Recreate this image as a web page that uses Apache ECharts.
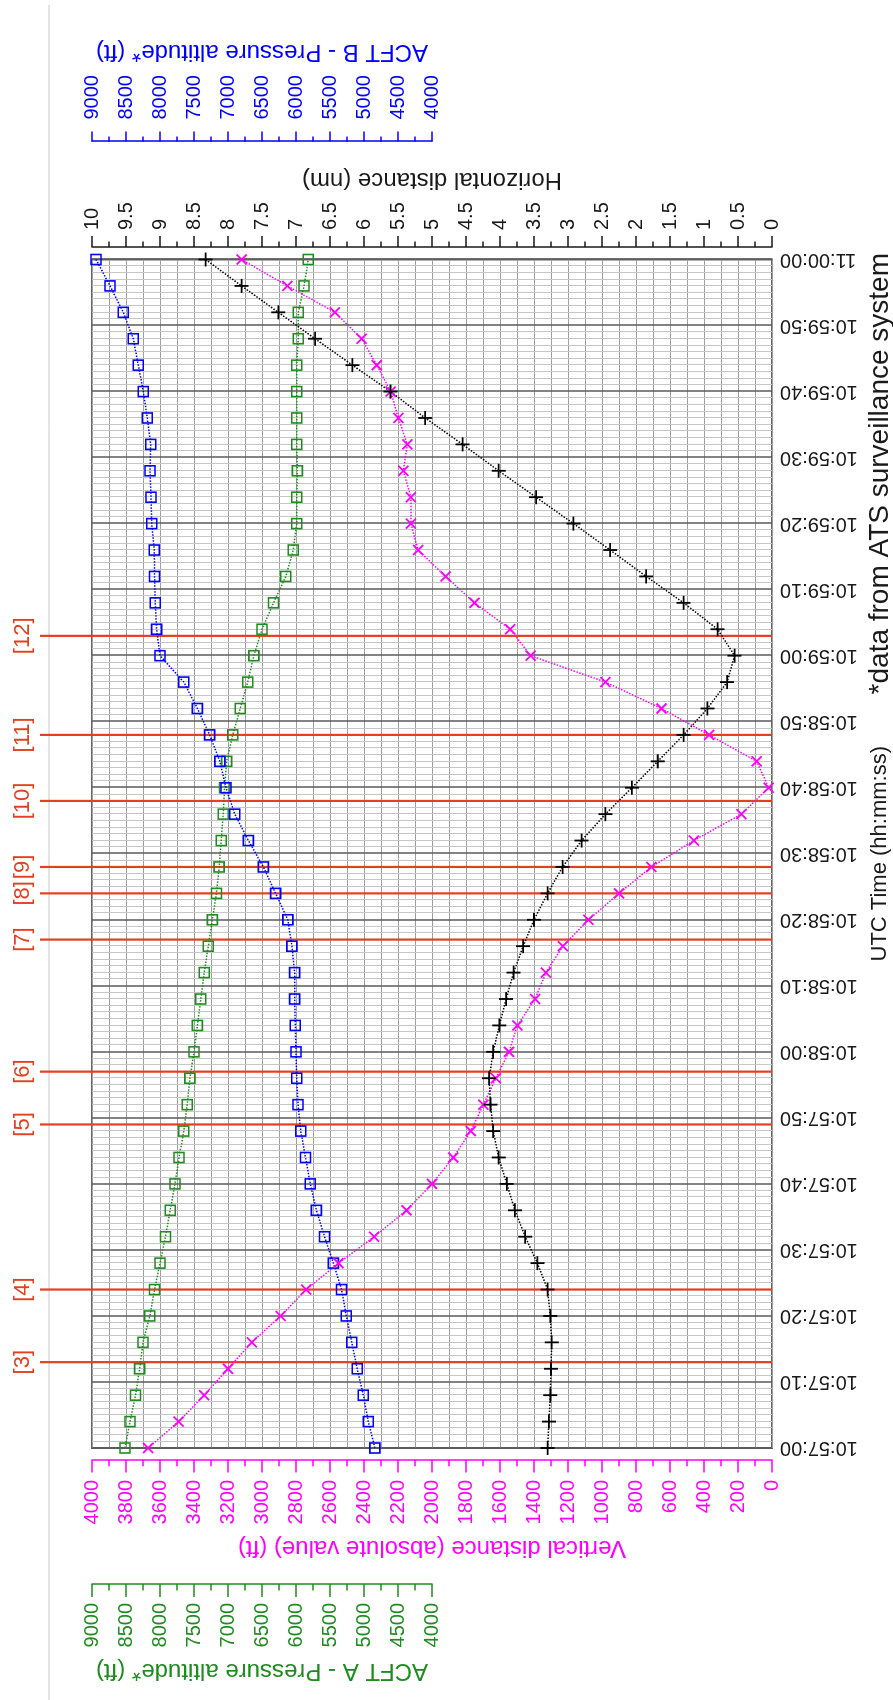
<!DOCTYPE html>
<html>
<head>
<meta charset="utf-8">
<script src="https://cdn.jsdelivr.net/npm/echarts@6/dist/echarts.min.js"></script>
<style>
  html, body { margin: 0; padding: 0; background: #fff; overflow: hidden; }
  .page { position: relative; width: 893px; height: 1700px; }
  /* chart is drawn landscape, then turned a quarter left like the original figure */
  .chart {
    position: absolute; left: 0; top: 0;
    width: 1700px; height: 893px;
    transform-origin: 0 0;
    transform: translateY(1700px) rotate(-90deg);
  }
</style>
</head>
<body>
<div class="page"><div id="chart" class="chart"></div></div>
<script>
// radar samples, every 4 s
var times = ['10:57:00', '10:57:04', '10:57:08', '10:57:12', '10:57:16', '10:57:20', '10:57:24', '10:57:28',
  '10:57:32', '10:57:36', '10:57:40', '10:57:44', '10:57:48', '10:57:52', '10:57:56', '10:58:00',
  '10:58:04', '10:58:08', '10:58:12', '10:58:16', '10:58:20', '10:58:24', '10:58:28', '10:58:32',
  '10:58:36', '10:58:40', '10:58:44', '10:58:48', '10:58:52', '10:58:56', '10:59:00', '10:59:04',
  '10:59:08', '10:59:12', '10:59:16', '10:59:20', '10:59:24', '10:59:28', '10:59:32', '10:59:36',
  '10:59:40', '10:59:44', '10:59:48', '10:59:52', '10:59:56', '11:00:00'];

// horizontal distance (nm)
var horizDist = [3.30, 3.28, 3.26, 3.25, 3.24, 3.26, 3.30, 3.45, 3.63, 3.78, 3.90, 4.02, 4.10, 4.14, 4.16, 4.10,
  4.01, 3.91, 3.80, 3.66, 3.50, 3.30, 3.08, 2.80, 2.45, 2.06, 1.68, 1.30, 0.95, 0.66, 0.55, 0.80,
  1.30, 1.85, 2.38, 2.92, 3.47, 4.02, 4.55, 5.10, 5.61, 6.17, 6.72, 7.26, 7.80, 8.33];

// vertical distance, absolute value (ft)
var vertDist = [3670, 3490, 3340, 3200, 3060, 2890, 2740, 2550, 2340, 2150, 2000, 1875, 1772, 1698, 1624, 1547,
  1498, 1394, 1330, 1230, 1080, 900, 710, 460, 180, 20, 90, 370, 650, 980, 1420, 1540,
  1750, 1920, 2082, 2124, 2124, 2169, 2145, 2198, 2243, 2325, 2414, 2571, 2851, 3120];

// pressure altitudes (ft)
var acftA = [8515, 8441, 8360, 8300, 8250, 8150, 8080, 8000, 7920, 7850, 7780, 7720, 7650, 7600, 7560, 7500,
  7450, 7400, 7350, 7290, 7230, 7170, 7130, 7100, 7070, 7050, 7020, 6930, 6820, 6710, 6620, 6500,
  6330, 6150, 6040, 5990, 5990, 5980, 5990, 5990, 5990, 5990, 5966, 5966, 5882, 5819];
var acftB = [4840, 4937, 5010, 5100, 5180, 5260, 5330, 5450, 5580, 5700, 5790, 5860, 5930, 5970, 5990, 6000,
  6010, 6020, 6020, 6060, 6120, 6300, 6480, 6700, 6900, 7030, 7120, 7270, 7450, 7650, 8000, 8050,
  8070, 8080, 8084, 8122, 8132, 8147, 8137, 8187, 8246, 8319, 8393, 8540, 8735, 8941];

// numbered events
var eventLabels = ['[3]', '[4]', '[5]', '[6]', '[7]', '[8]', '[9]', '[10]', '[11]', '[12]'];
var eventTimes = ['10:57:13', '10:57:24', '10:57:49', '10:57:57', '10:58:17', '10:58:24', '10:58:28',
  '10:58:38', '10:58:48', '10:59:03'];

var FONT = 'Liberation Sans, Arial, sans-serif';
var RED = '#e2401f';
var BLUE = '#0000ff';
var GREEN = '#1f8c1f';
var PINK = '#ff00ff';
var INK = '#1a1a1a';
var START = 10 * 3600 + 57 * 60;

function secs (s) {
  var p = s.split(':').map(Number);
  return p[0] * 3600 + p[1] * 60 + p[2] - START;
}
function pad (n) {
  return (n < 10 ? '0' : '') + n;
}
function clock (v) {
  var s = START + v;
  return pad(Math.floor(s / 3600)) + ':' + pad(Math.floor(s % 3600 / 60)) + ':' + pad(s % 60);
}
function pairs (values) {
  return times.map(function (t, i) {
    return [secs(t), values[i]];
  });
}

var PLUS = 'path://M0,5L10,5M5,0L5,10';
var CROSS = 'path://M0,0L10,10M10,0L0,10';

function valueAxis (opt) {
  var c = opt.color;
  return {
    type: 'value',
    gridIndex: opt.grid,
    position: opt.position,
    offset: opt.offset,
    min: opt.min,
    max: opt.max,
    interval: opt.interval,
    name: opt.name,
    nameLocation: 'middle',
    nameRotate: 90,
    nameGap: opt.nameGap,
    nameTextStyle: { color: c, fontSize: 24, fontFamily: FONT },
    axisLine: { show: true, onZero: false, lineStyle: { color: c, width: 1.5 } },
    axisTick: { show: true, inside: false, length: opt.tick, lineStyle: { color: c, width: 1.5 } },
    minorTick: { show: true, splitNumber: 2, length: opt.tick / 2, lineStyle: { color: c, width: 1.5 } },
    axisLabel: {
      color: c, fontSize: 20, fontFamily: FONT, margin: opt.margin,
      showMinLabel: true, showMaxLabel: true,
      formatter: function (v) { return String(v); }
    },
    splitLine: { show: false }
  };
}

var hAxis = valueAxis({ grid: 0, position: 'right', offset: 12.5, min: 0, max: 10, interval: 0.5,
  name: 'Horizontal distance (nm)', nameGap: 55, color: INK, tick: 11, margin: 17 });
hAxis.splitLine = { show: true, lineStyle: { color: '#9d9d9d', width: 1 } };
hAxis.minorSplitLine = { show: true, lineStyle: { color: '#9d9d9d', width: 1 } };

var option = {
  animation: false,
  backgroundColor: '#fff',
  grid: [
    { left: 252, top: 92, width: 1188.5, height: 680, containLabel: false, outerBoundsMode: 'none',
      show: true, borderColor: '#666', borderWidth: 2 },
    { left: 252, top: 92, width: 1188.5, height: 340, containLabel: false, outerBoundsMode: 'none' }
  ],
  xAxis: [
    {
      type: 'value', gridIndex: 0, min: 0, max: 180, interval: 10,
      name: 'UTC Time (hh:mm:ss)', nameLocation: 'middle', nameGap: 97,
      nameTextStyle: { color: INK, fontSize: 22, fontFamily: FONT },
      axisLine: { show: false, onZero: false },
      axisTick: { show: false },
      axisLabel: { rotate: 90, margin: 8, color: INK, fontSize: 20, fontFamily: FONT,
        showMinLabel: true, showMaxLabel: true, formatter: clock },
      splitLine: { show: true, lineStyle: { color: '#5a5a5a', width: 1.5 } },
      minorTick: { show: false, splitNumber: 10 },
      minorSplitLine: { show: true, lineStyle: { color: '#c6c6c6', width: 1 } }
    },
    { type: 'value', gridIndex: 1, min: 0, max: 180, show: false, axisLine: { onZero: false } }
  ],
  yAxis: [
    hAxis,
    valueAxis({ grid: 0, position: 'left', offset: 12, min: 0, max: 4000, interval: 200,
      name: 'Vertical distance (absolute value) (ft)', nameGap: 70, color: PINK, tick: 12.5, margin: 20 }),
    { type: 'value', gridIndex: 0, min: -1000, max: 9000, show: false, axisLine: { onZero: false } },
    valueAxis({ grid: 1, position: 'left', offset: 136, min: 4000, max: 9000, interval: 500,
      name: 'ACFT A - Pressure altitude* (ft)', nameGap: 67, color: GREEN, tick: 13, margin: 19 }),
    valueAxis({ grid: 1, position: 'right', offset: 118, min: 4000, max: 9000, interval: 500,
      name: 'ACFT B - Pressure altitude* (ft)', nameGap: 70, color: BLUE, tick: 10, margin: 22 })
  ],
  graphic: [
    { type: 'line', silent: true, shape: { x1: 0, y1: 49, x2: 1695, y2: 49 },
      style: { stroke: '#c8c8c8', lineWidth: 1 } },
    { type: 'text', silent: true, x: 1447, y: 880,
      style: { text: '*data from ATS surveillance system', fill: INK, font: '28px ' + FONT,
        align: 'right', verticalAlign: 'middle' } }
  ],
  series: [
    {
      type: 'custom', xAxisIndex: 0, yAxisIndex: 0, silent: true, clip: false, z: 1,
      data: eventTimes.map(function (t, i) { return [secs(t), i]; }),
      renderItem: function (params, api) {
        var x = api.coord([api.value(0), 0])[0];
        var cs = params.coordSys;
        return {
          type: 'group',
          children: [
            { type: 'line', shape: { x1: x, y1: cs.y - 52, x2: x, y2: cs.y + cs.height },
              style: { stroke: RED, lineWidth: 2.2 } },
            { type: 'text', x: x, y: cs.y - 69,
              style: { text: eventLabels[params.dataIndex], fill: RED, font: '22px ' + FONT,
                align: 'center', verticalAlign: 'middle' } }
          ]
        };
      }
    },
    {
      name: 'ACFT A', type: 'line', xAxisIndex: 0, yAxisIndex: 2, data: pairs(acftA),
      symbol: 'rect', symbolSize: 10, showAllSymbol: true,
      lineStyle: { color: GREEN, width: 1.5, type: 'dotted' },
      itemStyle: { color: 'transparent', borderColor: GREEN, borderWidth: 1.6 }
    },
    {
      name: 'ACFT B', type: 'line', xAxisIndex: 0, yAxisIndex: 2, data: pairs(acftB),
      symbol: 'rect', symbolSize: 10, showAllSymbol: true,
      lineStyle: { color: BLUE, width: 1.5, type: 'dotted' },
      itemStyle: { color: 'transparent', borderColor: BLUE, borderWidth: 1.6 }
    },
    {
      name: 'Vertical distance', type: 'line', xAxisIndex: 0, yAxisIndex: 1, data: pairs(vertDist),
      symbol: CROSS, symbolSize: 10, showAllSymbol: true,
      lineStyle: { color: PINK, width: 1.5, type: 'dotted' },
      itemStyle: { color: 'transparent', borderColor: PINK, borderWidth: 1.8 }
    },
    {
      name: 'Horizontal distance', type: 'line', xAxisIndex: 0, yAxisIndex: 0, data: pairs(horizDist),
      symbol: PLUS, symbolSize: 14, showAllSymbol: true,
      lineStyle: { color: '#000', width: 1.5, type: 'dotted' },
      itemStyle: { color: 'transparent', borderColor: '#000', borderWidth: 1.8 }
    }
  ]
};

var myChart = echarts.init(document.getElementById('chart'));
myChart.setOption(option);
</script>
</body>
</html>
